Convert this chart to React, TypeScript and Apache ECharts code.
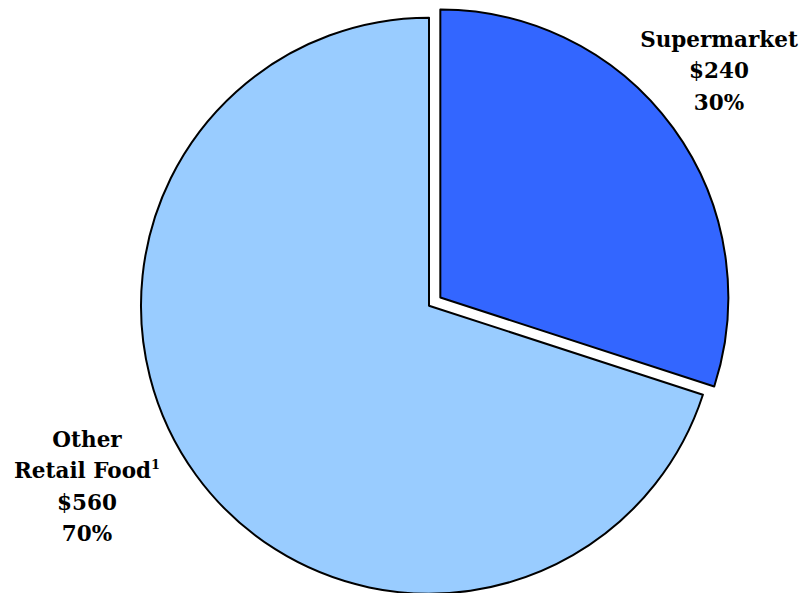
import React, { useEffect, useRef } from "react";
import * as echarts from "echarts";

const categories = ["Supermarket", "Other\nRetail Food"];
const dollars = [240, 560];
const percents = [30, 70];
const colors = ["#3366FF", "#99CCFF"];
const footnotes = ["", "1"];

export default function App() {
  const ref = useRef<HTMLDivElement>(null);
  useEffect(() => {
    const chart = echarts.init(ref.current!, null, { renderer: "svg" });
    const font = "'DejaVu Serif', serif";
    const labelPos = [
      { x: 719, y: 39 },
      { x: 87, y: 439 },
    ];
    const lineGap = 31.5;
    const graphics: any[] = [];
    categories.forEach((c, i) => {
      const nameLines = c.split("\n");
      const lines = nameLines.map((l, k) =>
        k === nameLines.length - 1 && footnotes[i] ? `${l}{sup|${footnotes[i]}}` : l
      );
      lines.push(`$${dollars[i]}`);
      lines.push(`${percents[i]}%`);
      lines.forEach((t, k) => {
        graphics.push({
          type: "text",
          x: labelPos[i].x,
          y: labelPos[i].y + k * lineGap,
          style: {
            text: t,
            fill: "#000",
            font: `bold 21.5px ${font}`,
            textAlign: "center",
            textVerticalAlign: "middle",
            rich: {
              sup: {
                fontFamily: font,
                fontWeight: "bold",
                fontSize: 13,
                fill: "#000",
                padding: [0, 0, 12, 0],
              },
            },
          },
        });
      });
    });
    chart.setOption({
      animation: false,
      graphic: graphics,
      series: [
        {
          type: "pie",
          center: [429, 305.7],
          radius: [0, 288],
          startAngle: 90,
          clockwise: true,
          selectedMode: "single",
          selectedOffset: 14,
          label: { show: false },
          labelLine: { show: false },
          itemStyle: { borderColor: "#000", borderWidth: 2 },
          emphasis: { disabled: true },
          data: categories.map((c, i) => ({
            name: c.replace("\n", " "),
            value: dollars[i],
            selected: i === 0,
            itemStyle: { color: colors[i] },
          })),
        },
      ],
    });
    return () => chart.dispose();
  }, []);
  return (
    <div
      ref={ref}
      style={{ position: "fixed", left: 0, top: 0, width: 804, height: 593, background: "#fff" }}
    />
  );
}
